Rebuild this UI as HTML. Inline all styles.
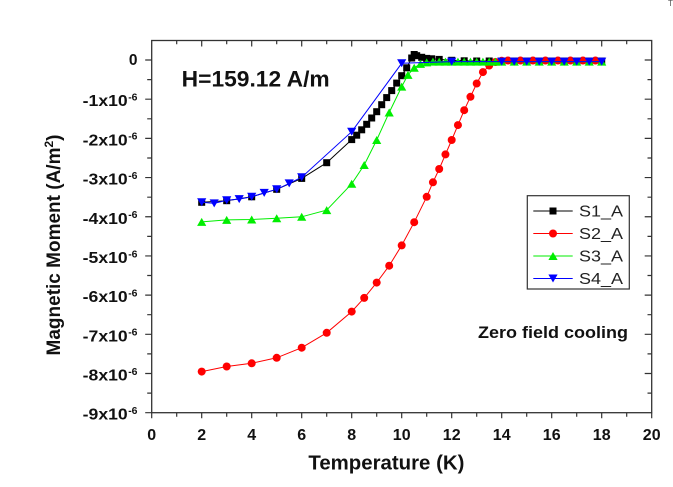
<!DOCTYPE html>
<html>
<head>
<meta charset="utf-8">
<style>
html,body{margin:0;padding:0;background:#fff;}
svg{display:block;}
text{font-family:"Liberation Sans",Arial,sans-serif;}
</style>
</head>
<body>
<svg width="673" height="487" viewBox="0 0 673 487" xmlns="http://www.w3.org/2000/svg">
<defs>
<marker id="sq" markerUnits="userSpaceOnUse" markerWidth="10" markerHeight="10" refX="0" refY="0" overflow="visible"><rect x="-3.5" y="-3.5" width="7" height="7" fill="#000"/></marker>
<marker id="ci" markerUnits="userSpaceOnUse" markerWidth="10" markerHeight="10" refX="0" refY="0" overflow="visible"><circle cx="0" cy="0" r="4" fill="#ff0000"/></marker>
<marker id="tu" markerUnits="userSpaceOnUse" markerWidth="10" markerHeight="10" refX="0" refY="0" overflow="visible"><polygon points="0,-4 4.6,4 -4.6,4" fill="#00ee00"/></marker>
<marker id="td" markerUnits="userSpaceOnUse" markerWidth="10" markerHeight="10" refX="0" refY="0" overflow="visible"><polygon points="-4.6,-4 4.6,-4 0,4" fill="#0000ff"/></marker>
</defs>
<rect width="673" height="487" fill="#fff"/>

<!-- frame -->
<rect x="151.7" y="40.5" width="500" height="372.2" fill="none" stroke="#333" stroke-width="1.3"/>

<!-- ticks -->
<g stroke="#333" stroke-width="1.2" fill="none">
<!-- left major -->
<path d="M145.2 60H151.7M145.2 99.19H151.7M145.2 138.38H151.7M145.2 177.57H151.7M145.2 216.76H151.7M145.2 255.95H151.7M145.2 295.14H151.7M145.2 334.33H151.7M145.2 373.52H151.7M145.2 412.71H151.7"/>
<!-- left minor -->
<path d="M147.2 79.6H151.7M147.2 118.8H151.7M147.2 158H151.7M147.2 197.2H151.7M147.2 236.4H151.7M147.2 275.5H151.7M147.2 314.7H151.7M147.2 353.9H151.7M147.2 393.1H151.7"/>
<!-- right major -->
<path d="M644.7 60H651.7M644.7 99.19H651.7M644.7 138.38H651.7M644.7 177.57H651.7M644.7 216.76H651.7M644.7 255.95H651.7M644.7 295.14H651.7M644.7 334.33H651.7M644.7 373.52H651.7"/>
<!-- right minor -->
<path d="M647.5 79.6H651.7M647.5 118.8H651.7M647.5 158H651.7M647.5 197.2H651.7M647.5 236.4H651.7M647.5 275.5H651.7M647.5 314.7H651.7M647.5 353.9H651.7M647.5 393.1H651.7"/>
<!-- bottom -->
<path d="M151.7 412.7V418.2M201.7 412.7V418.2M251.7 412.7V418.2M301.7 412.7V418.2M351.7 412.7V418.2M401.7 412.7V418.2M451.7 412.7V418.2M501.7 412.7V418.2M551.7 412.7V418.2M601.7 412.7V418.2M651.7 412.7V418.2"/>
<path d="M176.7 412.7V416.7M226.7 412.7V416.7M276.7 412.7V416.7M326.7 412.7V416.7M376.7 412.7V416.7M426.7 412.7V416.7M476.7 412.7V416.7M526.7 412.7V416.7M576.7 412.7V416.7M626.7 412.7V416.7"/>
<!-- top -->
<path d="M201.7 40.5V46.5M251.7 40.5V46.5M301.7 40.5V46.5M351.7 40.5V46.5M401.7 40.5V46.5M451.7 40.5V46.5M501.7 40.5V46.5M551.7 40.5V46.5M601.7 40.5V46.5"/>
<path d="M176.7 40.5V44.3M226.7 40.5V44.3M276.7 40.5V44.3M326.7 40.5V44.3M376.7 40.5V44.3M426.7 40.5V44.3M476.7 40.5V44.3M526.7 40.5V44.3M576.7 40.5V44.3M626.7 40.5V44.3"/>
</g>

<!-- series -->
<polyline fill="none" stroke="#000" stroke-width="1" marker-start="url(#sq)" marker-mid="url(#sq)" marker-end="url(#sq)"
points="201.7,202.3 226.7,200.7 251.7,196.8 276.7,189.3 301.7,178.4 326.7,162.7 351.7,139.6 356.7,135.2 361.7,129.8 366.7,124.3 371.7,118 376.7,111.7 381.7,104.7 386.7,97.6 391.7,90.6 396.7,83.1 401.7,75.7 406.7,67.8 411.7,58 414.2,54.5 416.7,55.7 421.7,57.3 426.7,58.4 431.7,58.8 439.2,59.4 451.7,60.3 464.2,60.8 476.7,61 489.2,61 501.7,61 514.2,61 526.7,61 539.2,61 551.7,61 564.2,61 576.7,61 589.2,61 601.7,61"/>

<polyline fill="none" stroke="#ff0000" stroke-width="1" marker-start="url(#ci)" marker-mid="url(#ci)" marker-end="url(#ci)"
points="201.7,371.6 226.7,366.5 251.7,363.3 276.7,357.8 301.7,347.7 326.7,332.8 351.7,311.6 364.2,297.9 376.7,282.6 389.2,265.7 401.7,245.4 414.2,222.2 426.7,196.8 432.95,182.3 439.2,169 445.45,154.4 451.7,140 457.95,125.1 464.2,110.2 470.45,96.8 476.7,83.5 482.95,72.1 489.2,65.5 495.45,62 501.7,60.8 507.95,60.5 520.45,60.5 532.95,60.5 545.45,60.5 557.95,60.5 570.45,60.5 582.95,60.5 595.45,60.5"/>

<polyline fill="none" stroke="#00ee00" stroke-width="1" marker-start="url(#tu)" marker-mid="url(#tu)" marker-end="url(#tu)"
points="201.7,221.9 226.7,219.9 251.7,219.5 276.7,218.3 301.7,216.8 326.7,210.1 351.7,183.8 364.2,165 376.7,140 389.2,112.5 401.7,86.6 407.95,74.9 414.2,67.8 420.45,63.9 426.7,62.4 432.95,61.6 439.2,61.6 445.45,61.6 451.7,61.6 457.95,61.6 464.2,61.6 470.45,61.6 476.7,61.6 482.95,61.6 489.2,61.6 495.45,61.6 501.7,61.6 514.2,61.6 526.7,61.6 539.2,61.6 551.7,61.6 564.2,61.6 576.7,61.6 589.2,61.6 601.7,61.6"/>

<polyline fill="none" stroke="#0000ff" stroke-width="1" marker-start="url(#td)" marker-mid="url(#td)" marker-end="url(#td)"
points="201.7,202.3 214.2,203.4 226.7,200.3 239.2,199.1 251.7,196.8 264.2,192.9 276.7,189.3 289.2,183.4 301.7,177.2 351.7,131.7 401.7,63.3 451.7,61.6 501.7,61.6 514.2,61.6 526.7,61.6 539.2,61.6 551.7,61.6 564.2,61.6 576.7,61.6 589.2,61.6 601.7,61.6"/>

<!-- legend -->
<rect x="527.3" y="195.7" width="102" height="93.3" fill="#fff" stroke="#333" stroke-width="1.2"/>
<line x1="533.3" y1="211" x2="572.7" y2="211" stroke="#000" stroke-width="1"/>
<rect x="549.5" y="207.5" width="7" height="7" fill="#000"/>
<line x1="533.3" y1="233.5" x2="572.7" y2="233.5" stroke="#ff0000" stroke-width="1"/>
<circle cx="553" cy="233.5" r="4" fill="#ff0000"/>
<line x1="533.3" y1="256" x2="572.7" y2="256" stroke="#00ee00" stroke-width="1"/>
<polygon points="553,252 557.6,260 548.4,260" fill="#00ee00"/>
<line x1="533.3" y1="278.5" x2="572.7" y2="278.5" stroke="#0000ff" stroke-width="1"/>
<polygon points="548.4,274.5 557.6,274.5 553,282.5" fill="#0000ff"/>
<g font-size="15.5" fill="#222">
<text x="579" y="216.5" textLength="44" lengthAdjust="spacingAndGlyphs">S1_A</text>
<text x="579" y="239" textLength="44" lengthAdjust="spacingAndGlyphs">S2_A</text>
<text x="579" y="261.5" textLength="44" lengthAdjust="spacingAndGlyphs">S3_A</text>
<text x="579" y="284" textLength="44" lengthAdjust="spacingAndGlyphs">S4_A</text>
</g>

<!-- y tick labels -->
<g font-weight="bold" fill="#111">
<text x="137.5" y="65" font-size="15.5" text-anchor="end">0</text>
<g font-size="16">
<text x="82.7" y="106.2" textLength="45" lengthAdjust="spacingAndGlyphs">-1x10</text>
<text x="82.7" y="145.4" textLength="45" lengthAdjust="spacingAndGlyphs">-2x10</text>
<text x="82.7" y="184.6" textLength="45" lengthAdjust="spacingAndGlyphs">-3x10</text>
<text x="82.7" y="223.8" textLength="45" lengthAdjust="spacingAndGlyphs">-4x10</text>
<text x="82.7" y="263" textLength="45" lengthAdjust="spacingAndGlyphs">-5x10</text>
<text x="82.7" y="302.1" textLength="45" lengthAdjust="spacingAndGlyphs">-6x10</text>
<text x="82.7" y="341.3" textLength="45" lengthAdjust="spacingAndGlyphs">-7x10</text>
<text x="82.7" y="380.5" textLength="45" lengthAdjust="spacingAndGlyphs">-8x10</text>
<text x="82.7" y="419.7" textLength="45" lengthAdjust="spacingAndGlyphs">-9x10</text>
</g>
<g font-size="10.5">
<text x="128.2" y="100.5" textLength="9.3" lengthAdjust="spacingAndGlyphs">-6</text>
<text x="128.2" y="139.7" textLength="9.3" lengthAdjust="spacingAndGlyphs">-6</text>
<text x="128.2" y="178.9" textLength="9.3" lengthAdjust="spacingAndGlyphs">-6</text>
<text x="128.2" y="218.1" textLength="9.3" lengthAdjust="spacingAndGlyphs">-6</text>
<text x="128.2" y="257.3" textLength="9.3" lengthAdjust="spacingAndGlyphs">-6</text>
<text x="128.2" y="296.4" textLength="9.3" lengthAdjust="spacingAndGlyphs">-6</text>
<text x="128.2" y="335.6" textLength="9.3" lengthAdjust="spacingAndGlyphs">-6</text>
<text x="128.2" y="374.8" textLength="9.3" lengthAdjust="spacingAndGlyphs">-6</text>
<text x="128.2" y="414" textLength="9.3" lengthAdjust="spacingAndGlyphs">-6</text>
</g>

<!-- x tick labels -->
<g font-size="16" text-anchor="middle">
<text x="151.7" y="440">0</text>
<text x="201.7" y="440">2</text>
<text x="251.7" y="440">4</text>
<text x="301.7" y="440">6</text>
<text x="351.7" y="440">8</text>
<text x="401.7" y="440">10</text>
<text x="451.7" y="440">12</text>
<text x="501.7" y="440">14</text>
<text x="551.7" y="440">16</text>
<text x="601.7" y="440">18</text>
<text x="651.7" y="440">20</text>
</g>

<!-- axis titles -->
<text x="308.4" y="469.5" font-size="20.5" textLength="156" lengthAdjust="spacingAndGlyphs">Temperature (K)</text>
<text transform="translate(60,245) rotate(-90)" text-anchor="middle" font-size="19">Magnetic Moment (A/m<tspan dy="-7" font-size="12">2</tspan><tspan dy="7">)</tspan></text>

<!-- annotations -->
<text x="181.7" y="86.7" font-size="22" textLength="148" lengthAdjust="spacingAndGlyphs">H=159.12 A/m</text>
<text x="478" y="338" font-size="16.5" textLength="150" lengthAdjust="spacingAndGlyphs">Zero field cooling</text>
</g>

<text x="668" y="6" font-size="8" fill="#555">T</text>
</svg>
</body>
</html>
